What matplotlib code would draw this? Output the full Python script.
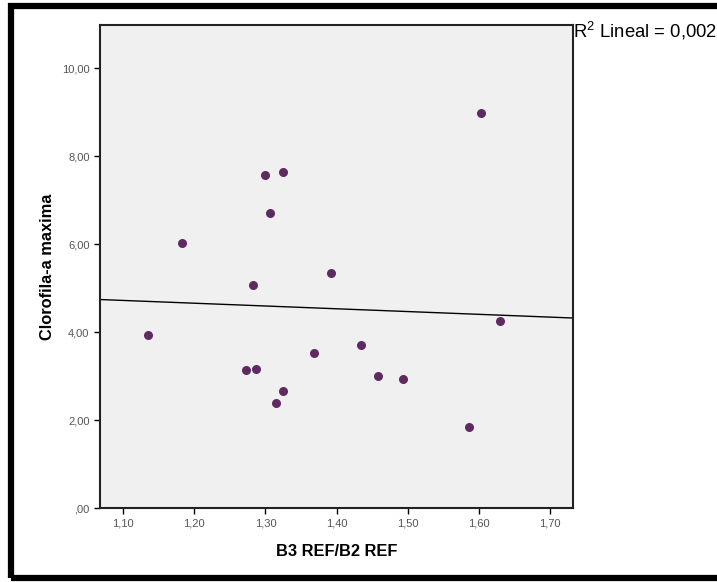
import numpy as np
import matplotlib
matplotlib.use("Agg")
import matplotlib.pyplot as plt
from matplotlib.patches import Rectangle

# ratio B3/B2 and max chlorophyll-a
b3_b2 = [1.135, 1.183, 1.283, 1.300, 1.325, 1.306, 1.392, 1.273, 1.287,
         1.324, 1.315, 1.368, 1.434, 1.458, 1.493, 1.586, 1.603, 1.630]
clorofila = [3.93, 6.02, 5.07, 7.57, 7.64, 6.70, 5.34, 3.14, 3.16,
             2.66, 2.39, 3.52, 3.70, 3.00, 2.93, 1.84, 8.98, 4.25]

x_ticks = [1.10, 1.20, 1.30, 1.40, 1.50, 1.60, 1.70]
y_ticks = [0, 2, 4, 6, 8, 10]
r2_text = "R$^2$ Lineal = 0,002"

plt.rcParams['font.family'] = ['Liberation Sans', 'DejaVu Sans']
plt.rcParams['mathtext.fontset'] = 'custom'
plt.rcParams['mathtext.rm'] = 'Liberation Sans'


def fmt(v):
    s = ("%.2f" % v).replace(".", ",")
    return s[1:] if s.startswith("0") else s


fig = plt.figure(figsize=(7.17, 5.82), dpi=100)
fig.patch.set_facecolor("white")

# thick black frame around the whole chart
fig.patches.append(Rectangle((11 / 717, 4 / 582), 720 / 717, 572 / 582,
                             transform=fig.transFigure, fill=False,
                             edgecolor="black", linewidth=4.5))

ax = fig.add_axes([100 / 717, 74 / 582, 473 / 717, 483 / 582])
ax.set_facecolor("#f0f0f0")

ax.scatter(b3_b2, clorofila, s=30, color="#5e2a60", zorder=3)

# linear fit
xlim = (1.0676, 1.732)
slope, inter = np.polyfit(b3_b2, clorofila, 1)
xs = np.array(xlim)
ax.plot(xs, slope * xs + inter, color="black", linewidth=1.0, zorder=2)

ax.set_xlim(xlim)
ax.set_ylim(0, 10.98)
ax.set_xticks(x_ticks)
ax.set_xticklabels([fmt(v) for v in x_ticks])
ax.set_yticks(y_ticks)
ax.set_yticklabels([fmt(v) for v in y_ticks])
ax.tick_params(labelsize=8, colors="black", length=4, width=1,
               labelcolor="#555555")

for sp in ax.spines.values():
    sp.set_linewidth(1.5)
    sp.set_color("#222222")

ax.set_xlabel("B3 REF/B2 REF", fontsize=11.8, fontweight="bold", labelpad=11)
ax.set_ylabel("Clorofila-a maxima", fontsize=11.8, fontweight="bold",
              labelpad=5)

fig.text(573 / 717, 1 - 31 / 582, r2_text, fontsize=13.3, ha="left",
         va="center", color="black")

fig.savefig("out.png", dpi=100)
